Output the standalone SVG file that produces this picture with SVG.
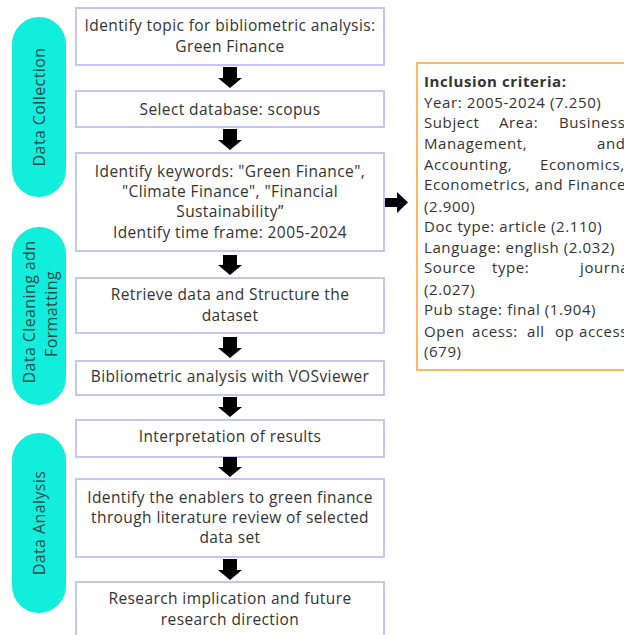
<svg xmlns="http://www.w3.org/2000/svg" width="624" height="635" viewBox="0 0 624 635">
<style>
.box{fill:#fff;stroke:#c3c6f4;stroke-width:2}
.pill{fill:#12eedc}
.t{font-family:"Open Sans","Liberation Sans",Arial,sans-serif;font-size:15.5px;letter-spacing:0.4px;fill:#333;text-anchor:middle}
.pt{font-family:"Open Sans","Liberation Sans",Arial,sans-serif;font-size:16px;letter-spacing:0.4px;fill:#1f4a4a;text-anchor:middle}
.c{font-family:"Open Sans","Liberation Sans",Arial,sans-serif;font-size:15px;letter-spacing:0.6px;fill:#333}
.arr{fill:#000}
</style>
<rect width="624" height="635" fill="#fff"/>
<g id="phase-collection"><rect class="pill" x="12" y="17" width="54" height="180" rx="27"/><text class="pt" transform="translate(45,107) rotate(-90)">Data Collection</text></g>
<g id="phase-cleaning"><rect class="pill" x="12" y="227" width="54" height="178" rx="27"/><text class="pt" transform="translate(35,312) rotate(-90)">Data Cleaning adn</text><text class="pt" transform="translate(57,314) rotate(-90)">Formatting</text></g>
<g id="phase-analysis"><rect class="pill" x="12" y="433" width="54" height="180" rx="27"/><text class="pt" transform="translate(45,523) rotate(-90)">Data Analysis</text></g>
<g id="n1"><rect class="box" x="76" y="8" width="308" height="57"/><text class="t" x="230" y="31">Identify topic for bibliometric analysis:</text><text class="t" x="230" y="52">Green Finance</text></g>
<g id="n2"><rect class="box" x="76" y="91" width="308" height="36"/><text class="t" x="230" y="115">Select database: scopus</text></g>
<g id="n3"><rect class="box" x="76" y="153" width="308" height="98"/><text class="t" x="230" y="177">Identify keywords: "Green Finance",</text><text class="t" x="230" y="197">"Climate Finance", "Financial</text><text class="t" x="230" y="217">Sustainability”</text><text class="t" x="230" y="238">Identify time frame: 2005-2024</text></g>
<g id="n4"><rect class="box" x="76" y="278" width="308" height="55"/><text class="t" x="230" y="300">Retrieve data and Structure the</text><text class="t" x="230" y="321">dataset</text></g>
<g id="n5"><rect class="box" x="76" y="361" width="308" height="34"/><text class="t" x="230" y="382">Bibliometric analysis with VOSviewer</text></g>
<g id="n6"><rect class="box" x="76" y="420" width="308" height="37"/><text class="t" x="230" y="442">Interpretation of results</text></g>
<g id="n7"><rect class="box" x="76" y="479" width="308" height="78"/><text class="t" x="230" y="503">Identify the enablers to green finance</text><text class="t" x="230" y="523">through literature review of selected</text><text class="t" x="230" y="543">data set</text></g>
<g id="n8"><rect class="box" x="76" y="582" width="308" height="60"/><text class="t" x="230" y="604">Research implication and future</text><text class="t" x="230" y="625">research direction</text></g>
<g id="criteria"><rect x="417" y="63" width="215" height="307" fill="#fff" stroke="#fbb862" stroke-width="2"/>
<text class="c" x="424" y="87" font-weight="bold" letter-spacing="0.2">Inclusion criteria:</text>
<text class="c" x="424" y="108">Year: 2005-2024 (7.250)</text>
<text class="c" y="128"><tspan x="424">Subject</tspan><tspan x="499">Area:</tspan><tspan x="559">Business,</tspan></text>
<text class="c" y="149"><tspan x="424">Management,</tspan><tspan x="597">and</tspan></text>
<text class="c" y="170"><tspan x="424">Accounting,</tspan><tspan x="540">Economics,</tspan></text>
<text class="c" x="424" y="190">Econometrics, and Finance</text>
<text class="c" x="424" y="212">(2.900)</text>
<text class="c" x="424" y="232">Doc type: article (2.110)</text>
<text class="c" x="424" y="253">Language: english (2.032)</text>
<text class="c" y="273"><tspan x="424">Source</tspan><tspan x="492">type:</tspan><tspan x="580">journal</tspan></text>
<text class="c" x="424" y="295">(2.027)</text>
<text class="c" x="424" y="315">Pub stage: final (1.904)</text>
<text class="c" y="337"><tspan x="424">Open</tspan><tspan x="472">acess:</tspan><tspan x="527">all</tspan><tspan x="555">op</tspan><tspan x="579">access</tspan></text>
<text class="c" x="424" y="357">(679)</text>
</g>
<g id="connectors">
<path class="arr" d="M223,67 H237 V78 H242 L230,88 L218,78 H223 Z"/>
<path class="arr" d="M223,129 H237 V140 H242 L230,150 L218,140 H223 Z"/>
<path class="arr" d="M223,255 H237 V265 H242 L230,275 L218,265 H223 Z"/>
<path class="arr" d="M223,337 H237 V348 H242 L230,358 L218,348 H223 Z"/>
<path class="arr" d="M223,397 H237 V407 H242 L230,417 L218,407 H223 Z"/>
<path class="arr" d="M223,457 H237 V467 H242 L230,477 L218,467 H223 Z"/>
<path class="arr" d="M223,559 H237 V570 H242 L230,580 L218,570 H223 Z"/>
<path class="arr" d="M385,198 H397 V192 L408,202.5 L397,213 V207 H385 Z"/>
</g>
</svg>
